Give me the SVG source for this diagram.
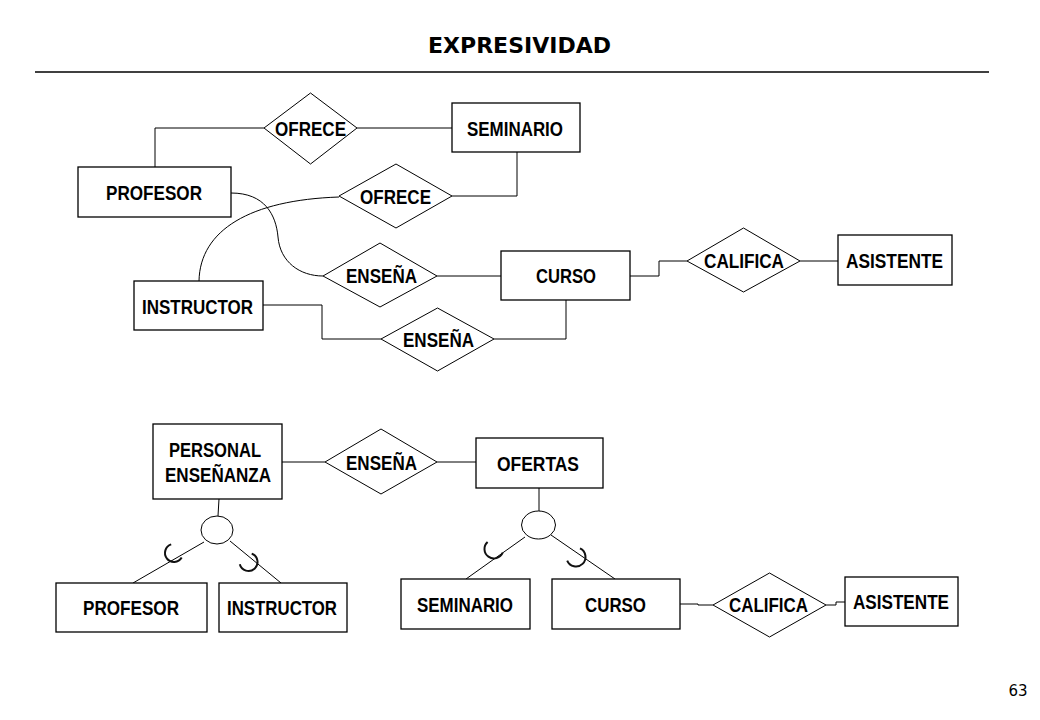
<svg xmlns="http://www.w3.org/2000/svg" width="1040" height="720" viewBox="0 0 1040 720">
<style>
.ent{fill:#fff;stroke:#000;stroke-width:1.3}
.rel{fill:#fff;stroke:#000;stroke-width:1}
.ln{fill:none;stroke:#000;stroke-width:1}
.sub{fill:none;stroke:#111;stroke-width:2}
.lbl{font-family:"Liberation Sans",Arial,sans-serif;font-size:20px;font-weight:bold;fill:#000;text-anchor:middle}
.title{font-family:"DejaVu Sans",Verdana,sans-serif;font-size:22px;font-weight:bold;fill:#000;text-anchor:middle}
.pg{font-family:"DejaVu Sans",Verdana,sans-serif;font-size:15px;fill:#000;text-anchor:middle}
</style>
<rect width="1040" height="720" fill="#fff"/>
<text class="title" x="519.5" y="53">EXPRESIVIDAD</text>
<line x1="35" y1="72" x2="989" y2="72" stroke="#000" stroke-width="1.3"/>
<text class="pg" x="1018" y="696">63</text>

<g id="connectors">
<polyline class="ln" points="264,128 155,128 155,167"/>
<line class="ln" x1="357" y1="128" x2="452" y2="128"/>
<polyline class="ln" points="452,196 517,196 517,152"/>
<path class="ln" d="M231,193 C265,193 276,215 278,237 C280,262 300,276 323,276"/>
<path class="ln" d="M199,281 C200,230 250,200 339,197"/>
<line class="ln" x1="437" y1="276" x2="501" y2="276"/>
<polyline class="ln" points="263,305 322,305 322,339 381,339"/>
<polyline class="ln" points="494,339 566,339 566,300"/>
<polyline class="ln" points="630,276 659,276 659,261 687,261"/>
<line class="ln" x1="800" y1="261" x2="838" y2="261"/>

<line class="ln" x1="282" y1="462" x2="325" y2="462"/>
<line class="ln" x1="437" y1="462" x2="476" y2="462"/>
<line class="ln" x1="219" y1="499" x2="218" y2="516"/>
<line class="ln" x1="539" y1="488" x2="539" y2="511"/>
<line class="ln" x1="204" y1="542" x2="133" y2="583"/>
<line class="ln" x1="230" y1="541" x2="281" y2="583"/>
<line class="ln" x1="525" y1="537" x2="466" y2="579"/>
<line class="ln" x1="551" y1="535" x2="615" y2="579"/>
<path class="sub" d="M171.2,544.4 A9,9 0 1 0 181.7,557.6"/>
<path class="sub" d="M251.7,553.6 A9,9 0 1 1 239.8,564.3"/>
<path class="sub" d="M487.6,541.9 A9.5,9.5 0 1 0 502.7,552.7"/>
<path class="sub" d="M580,548.4 A9.5,9.5 0 1 1 567.2,560.6"/>
<polyline class="ln" points="680,604 698,604 698,605 713,605"/>
<polyline class="ln" points="826,605 836,605 836,602 845,602"/>
</g>

<g id="ofrece1"><polygon class="rel" points="264,128 310.5,93 357,128 310.5,164"/><text class="lbl" x="310.5" y="136" textLength="71" lengthAdjust="spacingAndGlyphs">OFRECE</text></g>
<g id="seminario1"><rect class="ent" x="452" y="103" width="128" height="49"/><text class="lbl" x="515" y="136" textLength="96" lengthAdjust="spacingAndGlyphs">SEMINARIO</text></g>
<g id="profesor1"><rect class="ent" x="78" y="167" width="153" height="50"/><text class="lbl" x="154" y="200" textLength="96" lengthAdjust="spacingAndGlyphs">PROFESOR</text></g>
<g id="ofrece2"><polygon class="rel" points="339,196 396,164 452,196 396,228"/><text class="lbl" x="395.5" y="204" textLength="71" lengthAdjust="spacingAndGlyphs">OFRECE</text></g>
<g id="ensena1"><polygon class="rel" points="323,276 380,243 437,276 380,307"/><text class="lbl" x="381.5" y="283" textLength="71" lengthAdjust="spacingAndGlyphs">ENSEÑA</text></g>
<g id="curso1"><rect class="ent" x="501" y="251" width="129" height="49"/><text class="lbl" x="566" y="283" textLength="60" lengthAdjust="spacingAndGlyphs">CURSO</text></g>
<g id="califica1"><polygon class="rel" points="687,261 743.5,228 800,261 743.5,292"/><text class="lbl" x="744" y="268" textLength="80" lengthAdjust="spacingAndGlyphs">CALIFICA</text></g>
<g id="asistente1"><rect class="ent" x="838" y="235" width="114" height="50"/><text class="lbl" x="894.5" y="268" textLength="97" lengthAdjust="spacingAndGlyphs">ASISTENTE</text></g>
<g id="instructor1"><rect class="ent" x="134" y="281" width="129" height="49"/><text class="lbl" x="197.5" y="314" textLength="111" lengthAdjust="spacingAndGlyphs">INSTRUCTOR</text></g>
<g id="ensena2"><polygon class="rel" points="381,339 437.5,308 494,339 437.5,371"/><text class="lbl" x="438.5" y="347" textLength="71" lengthAdjust="spacingAndGlyphs">ENSEÑA</text></g>

<g id="personal"><rect class="ent" x="153" y="424" width="129" height="75"/><text class="lbl" x="215" y="457" textLength="92" lengthAdjust="spacingAndGlyphs">PERSONAL</text><text class="lbl" x="218" y="482" textLength="106" lengthAdjust="spacingAndGlyphs">ENSEÑANZA</text></g>
<g id="ensena3"><polygon class="rel" points="325,462 381,429 437,462 381,494"/><text class="lbl" x="381.5" y="470" textLength="71" lengthAdjust="spacingAndGlyphs">ENSEÑA</text></g>
<g id="ofertas"><rect class="ent" x="476" y="438" width="127" height="50"/><text class="lbl" x="538" y="471" textLength="82" lengthAdjust="spacingAndGlyphs">OFERTAS</text></g>
<g id="isa1"><ellipse class="rel" cx="217" cy="530" rx="16" ry="14"/></g>
<g id="isa2"><ellipse class="rel" cx="538.5" cy="525" rx="17" ry="14"/></g>
<g id="profesor2"><rect class="ent" x="56" y="583" width="151" height="49"/><text class="lbl" x="131" y="615" textLength="96" lengthAdjust="spacingAndGlyphs">PROFESOR</text></g>
<g id="instructor2"><rect class="ent" x="219" y="583" width="128" height="49"/><text class="lbl" x="282" y="615" textLength="110" lengthAdjust="spacingAndGlyphs">INSTRUCTOR</text></g>
<g id="seminario2"><rect class="ent" x="401" y="579" width="129" height="50"/><text class="lbl" x="465" y="612" textLength="96" lengthAdjust="spacingAndGlyphs">SEMINARIO</text></g>
<g id="curso2"><rect class="ent" x="552" y="579" width="128" height="50"/><text class="lbl" x="615.5" y="612" textLength="61" lengthAdjust="spacingAndGlyphs">CURSO</text></g>
<g id="califica2"><polygon class="rel" points="713,605 769.5,573 826,605 769.5,637"/><text class="lbl" x="768.5" y="612" textLength="79" lengthAdjust="spacingAndGlyphs">CALIFICA</text></g>
<g id="asistente2"><rect class="ent" x="845" y="577" width="113" height="49"/><text class="lbl" x="901" y="609" textLength="96" lengthAdjust="spacingAndGlyphs">ASISTENTE</text></g>
</svg>
